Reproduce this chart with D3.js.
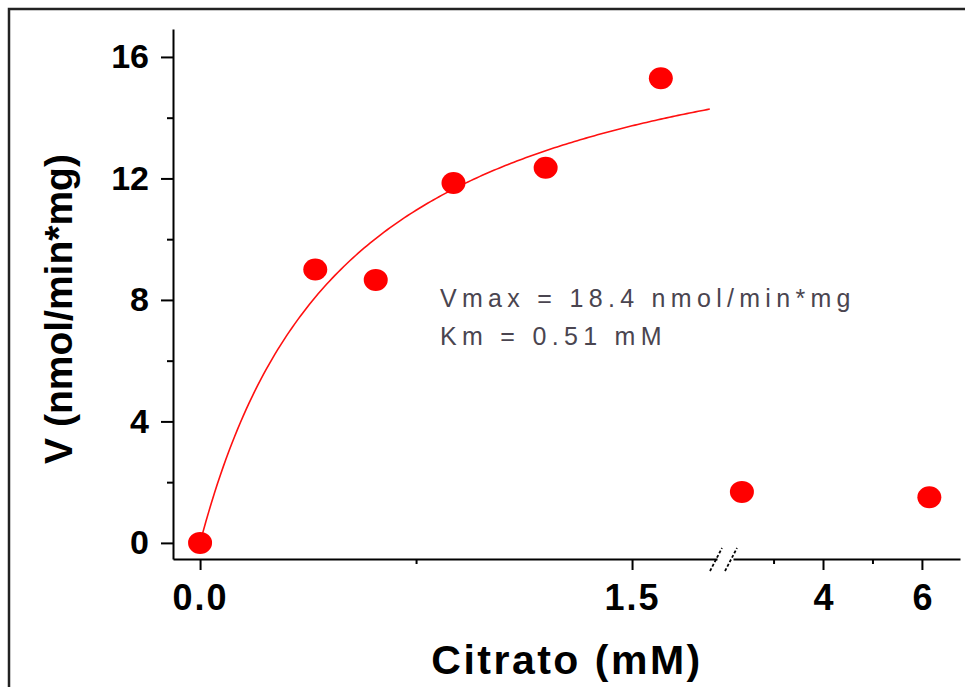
<!DOCTYPE html>
<html>
<head>
<meta charset="utf-8">
<script src="https://cdn.jsdelivr.net/npm/d3@7"></script>
<style>
  body { margin: 0; background: #fff; }
  svg { display: block; }
</style>
</head>
<body>
<svg id="chart"></svg>
<script>
(function () {
// data
var concLow = [0, 0.4, 0.61, 0.88, 1.2, 1.6]
var rateLow = [0, 9.0, 8.66, 11.85, 12.35, 15.3]
var concHigh = [2.36, 6.15]
var rateHigh = [1.68, 1.5]
var vmax = 18.4, km = 0.51
var fitEnd = 1.77

var yTicks = [0, 4, 8, 12, 16]
var yMinor = [2, 6, 10, 14]
var xTicksLow = [0, 1.5]
var xMinorLow = [0.75]
var xTicksHigh = [4, 6]
var xMinorHigh = [3, 5]

var width = 965, height = 687
var font = '"Liberation Sans", Arial, sans-serif'

var svg = d3.select('#chart')
    .attr('width', width)
    .attr('height', height)

// outer frame (only top and left visible)
svg.append('rect')
    .attr('x', 9).attr('y', 9)
    .attr('width', 1000).attr('height', 1000)
    .attr('fill', 'none')
    .attr('stroke', '#222')
    .attr('stroke-width', 2.5)

var y = d3.scaleLinear().domain([-0.53, 16.92]).range([559, 29])
var xLow = d3.scaleLinear().domain([-0.094, 1.795]).range([173, 717])
var xHigh = d3.scaleLinear().domain([2.18, 6.77]).range([733, 960])

var styleAxis = function (g, size, spacing) {
    g.select('.domain').attr('stroke', '#000').attr('stroke-width', 2)
    g.selectAll('.tick line').attr('stroke', '#000').attr('stroke-width', 2)
    g.selectAll('.tick text')
        .attr('fill', '#000')
        .style('font-family', font)
        .style('font-weight', 'bold')
        .style('font-size', (size || 33) + 'px')
        .style('letter-spacing', (spacing || 0) + 'px')
}

// y axis
svg.append('g')
    .attr('transform', 'translate(173,0)')
    .call(d3.axisLeft(y).tickValues(yMinor).tickSize(6).tickFormat('').tickSizeOuter(0))
    .call(styleAxis)
svg.append('g')
    .attr('transform', 'translate(173,0)')
    .call(d3.axisLeft(y).tickValues(yTicks).tickSize(12).tickPadding(12).tickSizeOuter(0))
    .call(styleAxis, 34, 0)
    .call(g => g.select('.domain').remove())

// x axis, two segments
svg.append('g')
    .attr('transform', 'translate(0,559)')
    .call(d3.axisBottom(xLow).tickValues(xMinorLow).tickSize(5).tickFormat('').tickSizeOuter(0))
    .call(styleAxis)
svg.append('g')
    .attr('transform', 'translate(0,559)')
    .call(d3.axisBottom(xLow).tickValues(xTicksLow).tickSize(11).tickPadding(14).tickFormat(d3.format('.1f')).tickSizeOuter(0))
    .call(styleAxis, 36, 2)
    .call(g => g.select('.domain').remove())
svg.append('g')
    .attr('transform', 'translate(0,559)')
    .call(d3.axisBottom(xHigh).tickValues(xMinorHigh).tickSize(5).tickFormat('').tickSizeOuter(0))
    .call(styleAxis)
svg.append('g')
    .attr('transform', 'translate(0,559)')
    .call(d3.axisBottom(xHigh).tickValues(xTicksHigh).tickSize(11).tickPadding(14).tickFormat(d3.format('d')).tickSizeOuter(0))
    .call(styleAxis, 36, 0)
    .call(g => g.select('.domain').remove())

// break marks
svg.selectAll('line.brk')
    .data([716, 731])
    .enter()
    .append('line')
    .attr('class', 'brk')
    .attr('x1', d => d - 6).attr('y1', 571)
    .attr('x2', d => d + 6).attr('y2', 548)
    .attr('stroke', '#000')
    .attr('stroke-width', 1.8)
    .attr('stroke-dasharray', '3,2')

// Michaelis-Menten fit line
var fitX = d3.range(0, fitEnd + 0.001, 0.01)
var line = d3.line()
    .x(d => xLow(d))
    .y(d => y(vmax * d / (km + d)))
svg.append('path')
    .datum(fitX)
    .attr('d', line)
    .attr('fill', 'none')
    .attr('stroke', '#ff1010')
    .attr('stroke-width', 1.6)

// points
var pts = concLow.map((c, i) => ({x: xLow(c), y: y(rateLow[i])}))
    .concat(concHigh.map((c, i) => ({x: xHigh(c), y: y(rateHigh[i])})))
svg.selectAll('ellipse.pt')
    .data(pts)
    .enter()
    .append('ellipse')
    .attr('class', 'pt')
    .attr('cx', d => d.x)
    .attr('cy', d => d.y)
    .attr('rx', 12)
    .attr('ry', 11)
    .attr('fill', '#ff0000')

// annotation
var notes = ['Vmax = 18.4 nmol/min*mg', 'Km = 0.51 mM']
svg.selectAll('text.note')
    .data(notes)
    .enter()
    .append('text')
    .attr('class', 'note')
    .attr('x', 440)
    .attr('y', (d, i) => 307 + i * 38)
    .attr('fill', '#4a4550')
    .style('font-family', font)
    .style('font-size', '25px')
    .style('letter-spacing', '5.3px')
    .text(d => d)

// axis titles
svg.append('text')
    .attr('x', 567)
    .attr('y', 674)
    .attr('text-anchor', 'middle')
    .style('font-family', font)
    .style('font-weight', 'bold')
    .style('font-size', '41px')
    .style('letter-spacing', '2.5px')
    .text('Citrato (mM)')

svg.append('text')
    .attr('transform', 'translate(72,309) rotate(-90)')
    .attr('text-anchor', 'middle')
    .style('font-family', font)
    .style('font-weight', 'bold')
    .style('font-size', '39px')
    .text('V (nmol/min*mg)')
})();
</script>
</body>
</html>
